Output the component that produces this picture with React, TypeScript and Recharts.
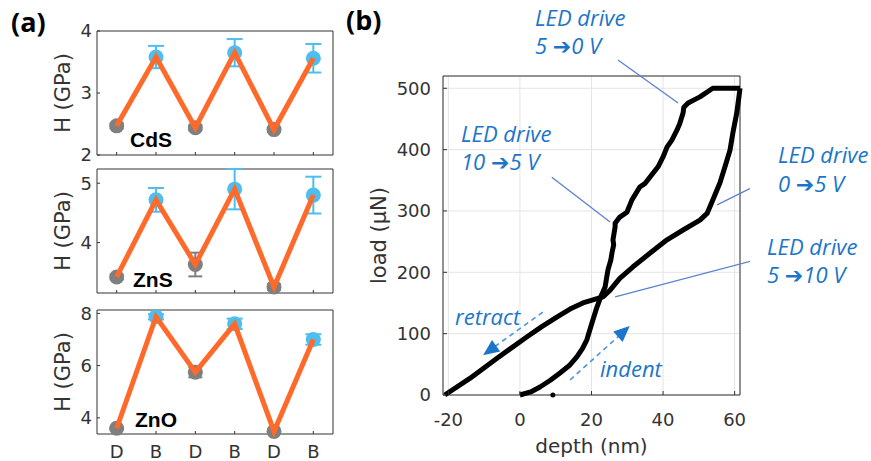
import React from 'react';
import {
  ComposedChart, Line, Scatter, XAxis, YAxis, ErrorBar, ReferenceArea,
  ReferenceLine, ReferenceDot, CartesianGrid,
} from 'recharts';

// ---------- Panel (a) data ----------
const positions = [1, 2, 3, 4, 5, 6];
const stateLabels = ['D', 'B', 'D', 'B', 'D', 'B'];

const cdsH = [2.47, 3.58, 2.44, 3.65, 2.41, 3.56];
const cdsErr = [0.04, 0.18, 0.04, 0.22, 0.04, 0.23];
const znsH = [3.42, 4.72, 3.63, 4.9, 3.25, 4.8];
const znsErr = [0.04, 0.2, 0.2, 0.34, 0.05, 0.31];
const znoH = [3.6, 7.87, 5.75, 7.6, 3.48, 7.0];
const znoErr = [0.05, 0.1, 0.2, 0.2, 0.05, 0.2];

const cdsTicks = [2, 3, 4];
const znsTicks = [4, 5];
const znoTicks = [4, 6, 8];

// ---------- Panel (b) data ----------
const indentDepth = [0, 3, 5.6, 8.5, 11.2, 13.8, 15.9, 17.5, 18.7, 20.1, 21.5, 22.6, 23.8, 24.6, 25.4, 25.7, 26.2, 26.0, 26.6, 26.6, 27.9, 29.9, 31.3, 33.5, 35.0, 36.3, 38.6, 40.0, 41.1, 42.5, 43.9, 44.7, 45.6, 45.8, 47.0, 50.3, 53.9, 61.5];
const indentLoad = [0, 5, 13, 24, 36, 48, 62, 76, 90, 117, 143, 160, 176, 204, 220, 231, 245, 253, 274, 280, 290, 298, 318, 339, 345, 355, 372, 388, 404, 416, 432, 443, 460, 469, 476, 486, 500, 500];
const retractDepth = [61.5, 61.2, 60.6, 59.5, 58.7, 57.3, 55.9, 53.9, 52.3, 50.3, 45.6, 41.1, 36.3, 31.6, 27.9, 25.2, 23.2, 17.6, 14.0, 10.3, 6.0, 2.0, -6.4, -14.0, -21.0];
const retractLoad = [500, 486, 460, 427, 399, 372, 346, 318, 296, 285, 269, 253, 231, 209, 190, 171, 160, 150, 140, 127, 111, 95, 60, 27, 0];
const markDepth = [9.2];
const markLoad = [0];
const depthTicks = [-20, 0, 20, 40, 60];
const loadTicks = [0, 100, 200, 300, 400, 500];

const TICK_FONT = 'DejaVu Sans';
const TXT = '#333333';
const BLUE_TXT = '#1b75c9';
const LEADER = '#5a80d0';
const DASH = '#4a93e0';
const TICK_LINE = { stroke: '#333', strokeWidth: 1 };
const blank = () => '';

function circleShape(color: string) {
  return (p: any) => <circle cx={p.cx} cy={p.cy} r={7.5} fill={color} />;
}

function arrowHead(angleDeg: number, color: string) {
  return (p: any) => {
    const a = (angleDeg * Math.PI) / 180;
    const L = 16, W = 7;
    const ux = Math.cos(a), uy = Math.sin(a);
    const bx = p.cx - L * ux, by = p.cy - L * uy;
    const pts = `${p.cx},${p.cy} ${bx - W * uy},${by + W * ux} ${bx + W * uy},${by - W * ux}`;
    return <polygon points={pts} fill={color} />;
  };
}

function MaterialPanel(props: {
  values: number[]; errs: number[]; domain: [number, number]; ticks: number[];
  top: number; showX: boolean;
}) {
  const { values, errs, domain, ticks, top, showX } = props;
  const rows = positions.map((p, i) => ({ pos: p, h: values[i], err: errs[i] }));
  const dark = rows.filter((_, i) => stateLabels[i] === 'D');
  const bright = rows.filter((_, i) => stateLabels[i] === 'B');
  const mTop = 12;
  const xH = 27;
  const mBot = 14;
  const h = mTop + 124 + xH + mBot;
  return (
    <div style={{ position: 'absolute', left: 0, top: top - mTop }}>
      <ComposedChart width={340} height={h} data={rows} margin={{ top: mTop, right: 7, bottom: mBot, left: 40 }}>
        <XAxis
          type="number" dataKey="pos" domain={[0.5, 6.5]} ticks={positions} interval={0}
          tickFormatter={(v: number) => (showX ? stateLabels[v - 1] : '')} height={xH}
          axisLine={false} tickLine={TICK_LINE} tickSize={-3} tickMargin={14}
          tick={{ fill: TXT, fontSize: 18, fontFamily: TICK_FONT }}
        />
        <XAxis
          xAxisId="top" orientation="top" type="number" domain={[0.5, 6.5]} ticks={positions} interval={0}
          tickFormatter={blank} height={0} axisLine={false} tickLine={TICK_LINE} tickSize={-3} tickMargin={0}
          tick={{ fontSize: 1 }}
        />
        <YAxis
          type="number" dataKey="h" domain={domain} ticks={ticks} width={57} interval={0}
          axisLine={false} tickLine={TICK_LINE} tickSize={-3} tickMargin={8}
          tick={{ fill: TXT, fontSize: 18, fontFamily: TICK_FONT }}
          label={{ value: 'H (GPa)', angle: -90, position: 'insideLeft', offset: 23,
            style: { textAnchor: 'middle', fill: TXT, fontSize: 21, fontFamily: TICK_FONT } }}
        />
        <YAxis
          yAxisId="right" orientation="right" type="number" domain={domain} ticks={ticks} width={0} interval={0}
          tickFormatter={blank} axisLine={false} tickLine={TICK_LINE} tickSize={-3} tickMargin={0}
          tick={{ fontSize: 1 }}
        />
        <ReferenceArea x1={0.5} x2={6.5} y1={domain[0]} y2={domain[1]} fill="none" fillOpacity={0}
          stroke="#333" strokeWidth={1} ifOverflow="visible" />
        <Scatter data={dark} fill="#7f7f7f" shape={circleShape('#7f7f7f')} isAnimationActive={false}>
          <ErrorBar dataKey="err" direction="y" width={7} stroke="#7f7f7f" strokeWidth={2} isAnimationActive={false} />
        </Scatter>
        <Scatter data={bright} fill="#4dbeee" shape={circleShape('#4dbeee')} isAnimationActive={false}>
          <ErrorBar dataKey="err" direction="y" width={8} stroke="#4dbeee" strokeWidth={2} isAnimationActive={false} />
        </Scatter>
        <Scatter data={rows} fill="#ff6a2a" line={{ stroke: '#ff6a2a', strokeWidth: 5, strokeLinejoin: 'miter' }}
          lineJointType="linear" shape={() => <g />} isAnimationActive={false} />
      </ComposedChart>
    </div>
  );
}

function LoadPanel() {
  const indentPts = indentDepth.map((d, i) => ({ depth: d, load: indentLoad[i] }));
  const retractPts = retractDepth.map((d, i) => ({ depth: d, load: retractLoad[i] }));
  const markPts = markDepth.map((d, i) => ({ depth: d, load: markLoad[i] }));
  const tickStyle = { fill: TXT, fontSize: 18, fontFamily: TICK_FONT };
  return (
    <div style={{ position: 'absolute', left: 340, top: 0 }}>
      <ComposedChart width={410} height={461} margin={{ top: 76, right: 10, bottom: 0, left: 30 }}>
        <CartesianGrid stroke="#e4e4e4" strokeWidth={1} />
        <XAxis
          type="number" dataKey="depth" domain={[-21.5, 61.5]} ticks={depthTicks} interval={0}
          height={66} axisLine={false} tickLine={TICK_LINE} tickSize={-4} tickMargin={22} tick={tickStyle}
          label={{ value: 'depth (nm)', position: 'insideBottom', offset: 8,
            style: { fill: TXT, fontSize: 20, fontFamily: TICK_FONT } }}
        />
        <XAxis
          xAxisId="top" orientation="top" type="number" domain={[-21.5, 61.5]} ticks={depthTicks} interval={0}
          tickFormatter={blank} height={0} axisLine={false} tickLine={TICK_LINE} tickSize={-4} tickMargin={0}
          tick={{ fontSize: 1 }}
        />
        <YAxis
          type="number" dataKey="load" domain={[0, 520]} ticks={loadTicks} interval={0}
          width={73} axisLine={false} tickLine={TICK_LINE} tickSize={-4} tickMargin={16} tick={tickStyle}
          label={{ value: 'load (μN)', angle: -90, position: 'insideLeft', offset: 9,
            style: { textAnchor: 'middle', fill: TXT, fontSize: 21, fontFamily: TICK_FONT } }}
        />
        <YAxis
          yAxisId="right" orientation="right" type="number" domain={[0, 520]} ticks={loadTicks} interval={0}
          tickFormatter={blank} width={0} axisLine={false} tickLine={TICK_LINE} tickSize={-4} tickMargin={0}
          tick={{ fontSize: 1 }}
        />
        <ReferenceArea x1={-21.5} x2={61.5} y1={0} y2={520} fill="none" fillOpacity={0}
          stroke="#333" strokeWidth={1} ifOverflow="visible" />
        <Line data={indentPts} dataKey="load" stroke="#000" strokeWidth={5} dot={false} activeDot={false}
          strokeLinejoin="round" isAnimationActive={false} />
        <Line data={retractPts} dataKey="load" stroke="#000" strokeWidth={5} dot={false} activeDot={false}
          strokeLinejoin="round" isAnimationActive={false} />
        <Scatter data={markPts} fill="#000" shape={(p: any) => <circle cx={p.cx} cy={p.cy} r={2.5} fill="#000" />}
          isAnimationActive={false} />
        {/* leader lines */}
        <ReferenceLine segment={[{ x: 27.4, y: 546 }, { x: 44.2, y: 476 }]} stroke={LEADER} strokeWidth={1.3} ifOverflow="visible" />
        <ReferenceLine segment={[{ x: 8.9, y: 355 }, { x: 25.2, y: 282 }]} stroke={LEADER} strokeWidth={1.3} ifOverflow="visible" />
        <ReferenceLine segment={[{ x: 69, y: 350 }, { x: 55.1, y: 310 }]} stroke={LEADER} strokeWidth={1.3} ifOverflow="visible" />
        <ReferenceLine segment={[{ x: 65.7, y: 220 }, { x: 26.6, y: 160 }]} stroke={LEADER} strokeWidth={1.3} ifOverflow="visible" />
        {/* dashed direction arrows */}
        <ReferenceLine segment={[{ x: 6.4, y: 135 }, { x: -7.5, y: 77 }]} stroke={DASH} strokeWidth={1.6} strokeDasharray="5 4" ifOverflow="visible" />
        <ReferenceDot x={-10.3} y={65} r={1} shape={arrowHead(144.4, BLUE_TXT)} ifOverflow="visible" />
        <ReferenceLine segment={[{ x: 14.0, y: 24.5 }, { x: 27.6, y: 96 }]} stroke={DASH} strokeWidth={1.6} strokeDasharray="5 4" ifOverflow="visible" />
        <ReferenceDot x={30.7} y={112.5} r={1} shape={arrowHead(-42, BLUE_TXT)} ifOverflow="visible" />
      </ComposedChart>
    </div>
  );
}

const blueText = { fill: BLUE_TXT, fontFamily: 'Open Sans', fontStyle: 'italic' as const, fontSize: 22 };
const arrowStyle = { fontFamily: 'DejaVu Sans', fontStyle: 'normal' as const, fontWeight: 700, fontSize: 22 };
const matText = { fill: '#000', fontFamily: 'Liberation Sans', fontWeight: 700, fontSize: 21 };
const panelText = { fill: '#000', fontFamily: 'Open Sans', fontWeight: 700, fontSize: 27 };

function LedNote(props: { x: number; y: number; gap: number; from: string; to: string }) {
  const { x, y, gap, from, to } = props;
  return (
    <text x={x} y={y} style={blueText}>
      <tspan x={x} y={y}>LED drive</tspan>
      <tspan x={x} y={y + gap}>{from + ' '}</tspan>
      <tspan style={arrowStyle}>➔</tspan>
      <tspan>{to + ' V'}</tspan>
    </text>
  );
}

export default function App() {
  return (
    <div style={{ position: 'absolute', left: 0, top: 0, width: 871, height: 461, background: '#fff', overflow: 'hidden' }}>
      <MaterialPanel values={cdsH} errs={cdsErr} domain={[2, 4]} ticks={cdsTicks} top={31} showX={false} />
      <MaterialPanel values={znsH} errs={znsErr} domain={[3.15, 5.24]} ticks={znsTicks} top={169} showX={false} />
      <MaterialPanel values={znoH} errs={znoErr} domain={[3.38, 8.13]} ticks={znoTicks} top={310} showX={true} />
      <LoadPanel />
      <svg width={871} height={461} style={{ position: 'absolute', left: 0, top: 0, pointerEvents: 'none' }}>
        <text x={11} y={32} style={panelText}>(a)</text>
        <text x={346} y={30} style={panelText}>(b)</text>
        <text x={130} y={147} style={matText}>CdS</text>
        <text x={133} y={287} style={matText}>ZnS</text>
        <text x={135} y={427} style={matText}>ZnO</text>
        <LedNote x={535} y={26} gap={28} from="5" to="0" />
        <LedNote x={461} y={142} gap={28} from="10" to="5" />
        <LedNote x={778} y={163} gap={29} from="0" to="5" />
        <LedNote x={767} y={255} gap={28} from="5" to="10" />
        <text x={455} y={325} style={blueText}>retract</text>
        <text x={600} y={377} style={blueText}>indent</text>
      </svg>
    </div>
  );
}
